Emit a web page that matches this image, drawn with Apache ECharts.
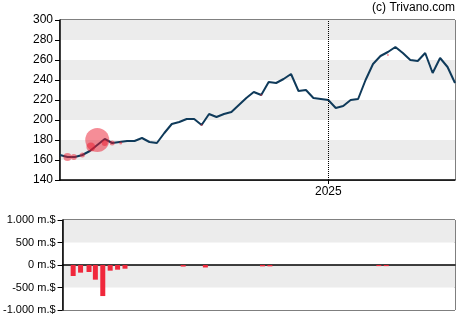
<!DOCTYPE html>
<html>
<head>
<meta charset="utf-8">
<script src="https://cdn.jsdelivr.net/npm/echarts@6/dist/echarts.min.js"></script>
<style>
  html, body { margin: 0; padding: 0; background: #ffffff; }
  #chart { width: 470px; height: 325px; }
</style>
</head>
<body>
<div id="chart"></div>
<script>
// Weekly closing prices (USD), first week starting 2024-04-24
const startDate = '2024-04-24';
const closePrice = [
  165, 163, 163, 165, 169, 175, 181, 177, 178, 179,
  179, 182, 178, 177, 187, 196, 198, 201, 201, 195,
  206, 203, 206, 208, 215, 222, 228, 225, 238, 237,
  241, 246, 229, 230, 222, 221, 220, 212, 214, 220,
  221, 240, 256, 264, 268, 273, 267, 260, 259, 267,
  247, 262, 253, 237
];

// Insider transactions: date, price level, marker size
const tradeDates = ['2024-05-01', '2024-05-07', '2024-05-15', '2024-05-23', '2024-05-29',
  '2024-06-05', '2024-06-12', '2024-06-20', '2024-09-04', '2024-10-30', '2025-02-26'];
const tradePrice = [163, 163, 165, 173, 180, 177, 177, 177, 195, 225, 265];
const tradeSize = [8, 6, 5, 9, 24, 6, 5, 3, 2, 2, 2];

// Net insider flow per week (million USD)
const flowDates = ['2024-05-04', '2024-05-11', '2024-05-19', '2024-05-25', '2024-06-01',
  '2024-06-08', '2024-06-15', '2024-06-22', '2024-08-16', '2024-09-06',
  '2024-10-30', '2024-11-06', '2025-02-17', '2025-02-24'];
const flowValues = [-244, -170, -155, -326, -690, -126, -104, -82, -35, -55, -30, -30, -25, -25];

// Year markers on the date axis
const yearMarks = ['2025-01-01'];

function toTime(s) {
  const p = s.split('-').map(Number);
  return new Date(p[0], p[1] - 1, p[2]).getTime();
}

const priceSeries = closePrice.map(function (v, i) {
  const d = new Date(toTime(startDate));
  d.setDate(d.getDate() + 7 * i);
  return [d.getTime(), v];
});
const xMin = priceSeries[0][0];
const xMax = priceSeries[priceSeries.length - 1][0];
const yearTimes = yearMarks.map(toTime);

function fmtMoney(v) {
  const a = Math.abs(v);
  const s = a >= 1000 ? Math.floor(a / 1000) + '.' + String(a % 1000).padStart(3, '0') : String(a);
  return (v < 0 ? '-' : '') + s + ' m.$';
}

const font = 'Liberation Sans, Arial, sans-serif';
const chart = echarts.init(document.getElementById('chart'), null, { renderer: 'canvas' });

chart.setOption({
  animation: false,
  backgroundColor: '#ffffff',
  textStyle: { fontFamily: font },
  graphic: [{
    type: 'text',
    right: 15,
    top: 2,
    style: { text: '(c) Trivano.com', fontFamily: font, fontSize: 12, fill: '#000000' }
  }],
  grid: [
    { left: 60, right: 15, top: 20, height: 160, show: true, borderColor: '#000', borderWidth: 1, backgroundColor: 'transparent' },
    { left: 60, right: 15, top: 220, height: 90, show: true, borderColor: '#000', borderWidth: 1, backgroundColor: 'transparent' }
  ],
  xAxis: [
    {
      type: 'value', gridIndex: 0, min: xMin, max: xMax, scale: true,
      axisLine: { show: true, onZero: false, lineStyle: { color: '#000', width: 1.5 } },
      axisTick: { show: true, customValues: yearTimes, length: 4, lineStyle: { color: '#000' } },
      axisLabel: {
        customValues: yearTimes, color: '#000', fontSize: 12, fontFamily: font, margin: 6,
        formatter: function (v) { return String(new Date(v).getFullYear()); }
      },
      splitLine: { show: false }
    },
    {
      type: 'value', gridIndex: 1, min: xMin, max: xMax, scale: true,
      axisLine: { show: true, onZero: true, lineStyle: { color: '#000', width: 1.5 } },
      axisTick: { show: false },
      axisLabel: { show: false },
      splitLine: { show: false }
    }
  ],
  yAxis: [
    {
      type: 'value', gridIndex: 0, min: 140, max: 300, interval: 20,
      axisLine: { show: true, lineStyle: { color: '#000', width: 1.5 } },
      axisTick: { show: true, length: 5, lineStyle: { color: '#000' } },
      axisLabel: { color: '#000', fontSize: 12, fontFamily: font, margin: 7 },
      splitLine: { show: false },
      splitArea: { show: true, areaStyle: { color: ['#ffffff', '#ececec'] } }
    },
    {
      type: 'value', gridIndex: 1, min: -1000, max: 1000, interval: 500,
      axisLine: { show: true, lineStyle: { color: '#000', width: 1.5 } },
      axisTick: { show: true, length: 5, lineStyle: { color: '#000' } },
      axisLabel: { color: '#000', fontSize: 11, fontFamily: font, margin: 7, formatter: fmtMoney },
      splitLine: { show: false },
      splitArea: { show: true, areaStyle: { color: ['#ffffff', '#ececec'] } }
    }
  ],
  series: [
    {
      type: 'line', xAxisIndex: 0, yAxisIndex: 0,
      data: priceSeries,
      showSymbol: false, symbol: 'none',
      lineStyle: { color: '#0f3a5a', width: 2 },
      z: 2,
      markLine: {
        silent: true, symbol: 'none',
        label: { show: false },
        lineStyle: { color: '#000', type: 'dotted', width: 1 },
        data: yearTimes.map(function (t) { return { xAxis: t }; })
      }
    },
    {
      type: 'scatter', xAxisIndex: 0, yAxisIndex: 0,
      data: tradeDates.map(function (d, i) { return [toTime(d), tradePrice[i], tradeSize[i]]; }),
      symbolSize: function (v) { return v[2]; },
      itemStyle: { color: 'rgba(234, 24, 44, 0.62)' },
      z: 3
    },
    {
      type: 'bar', xAxisIndex: 1, yAxisIndex: 1,
      data: flowDates.map(function (d, i) { return [toTime(d), flowValues[i]]; }),
      barWidth: 5,
      itemStyle: { color: '#f0283c' }
    }
  ]
});
</script>
</body>
</html>
